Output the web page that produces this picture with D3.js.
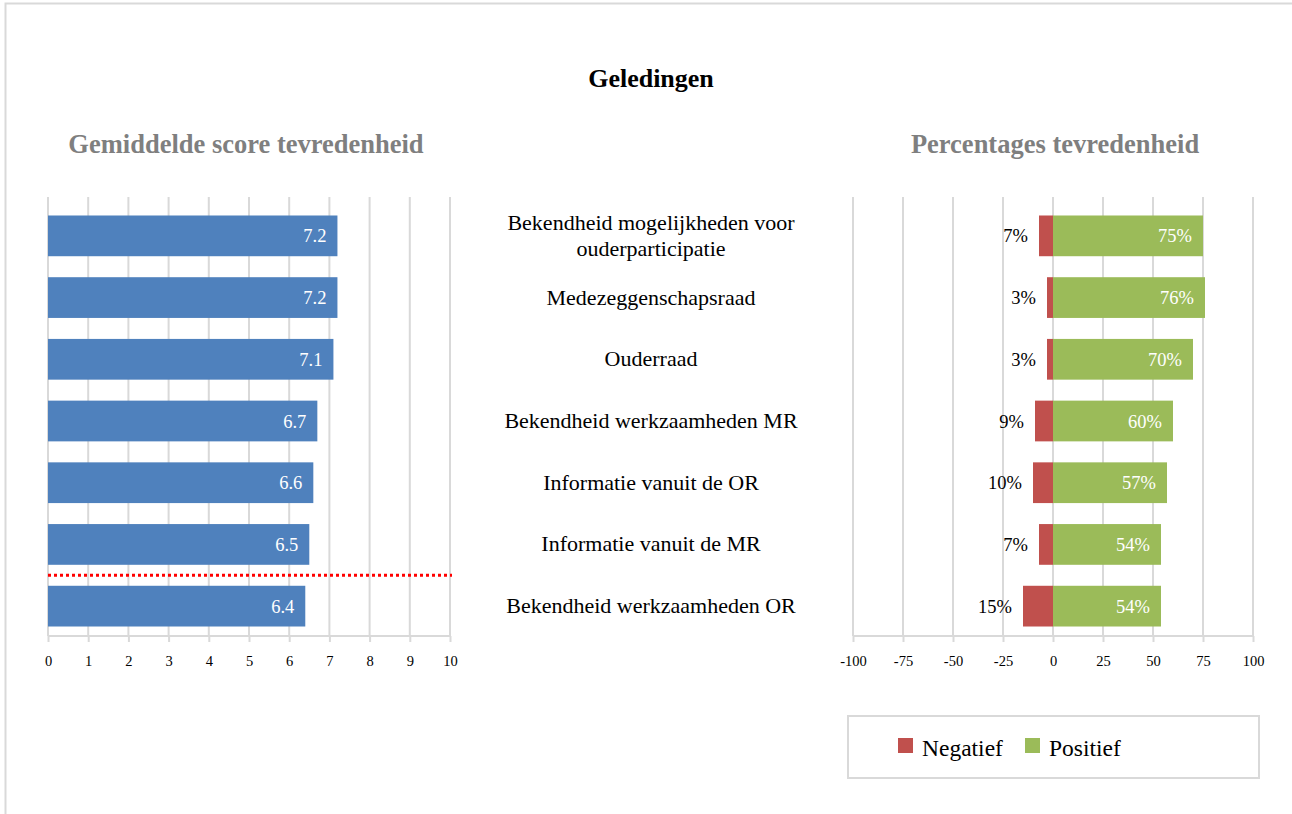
<!DOCTYPE html>
<html>
<head>
<meta charset="utf-8">
<style>
  body { margin: 0; background: #fff; }
  svg text { font-family: "Liberation Serif", "Times New Roman", serif; }
  .grid line { stroke: #d9d9d9; stroke-width: 2; }
  .axis path, .axis line { stroke: #d9d9d9; stroke-width: 2; }
  .axis text { font-size: 14.5px; fill: #000; font-family: "Liberation Serif", serif; }
</style>
</head>
<body>
<svg width="1292" height="814"></svg>
<script src="https://cdnjs.cloudflare.com/ajax/libs/d3/7.8.5/d3.min.js"></script>
<script>
// data
const categories = [
  "Bekendheid mogelijkheden voor|ouderparticipatie",
  "Medezeggenschapsraad",
  "Ouderraad",
  "Bekendheid werkzaamheden MR",
  "Informatie vanuit de OR",
  "Informatie vanuit de MR",
  "Bekendheid werkzaamheden OR"
];
const scores = [7.2, 7.2, 7.1, 6.7, 6.6, 6.5, 6.4];
const negatief = [7, 3, 3, 9, 10, 7, 15];
const positief = [75, 76, 70, 60, 57, 54, 54];
const scoreTicks = [0, 1, 2, 3, 4, 5, 6, 7, 8, 9, 10];
const pctTicks = [-100, -75, -50, -25, 0, 25, 50, 75, 100];
const thresholdAfter = 5; // dotted line below this row index

const svg = d3.select("svg");
const blue = "#4f81bd", red = "#c0504d", green = "#9bbb59";

// outer frame
svg.append("rect")
  .attr("x", 5.5).attr("y", 3.5)
  .attr("width", 1300).attr("height", 830)
  .attr("fill", "none").attr("stroke", "#d9d9d9").attr("stroke-width", 2);

svg.append("text")
  .attr("x", 651).attr("y", 87)
  .attr("text-anchor", "middle")
  .style("font-size", "26px").style("font-weight", "bold")
  .text("Geledingen");

const plotTop = 197, plotBottom = 636;

const y = d3.scaleBand()
  .domain(d3.range(categories.length))
  .range([205, 637])
  .paddingInner(0.34)
  .paddingOuter(0.17);

// ---------- left chart ----------
const x1 = d3.scaleLinear().domain([0, 10]).range([48, 450]);

svg.append("text")
  .attr("x", 246).attr("y", 153)
  .attr("text-anchor", "middle")
  .style("font-size", "26.5px").style("font-weight", "bold").style("fill", "#7f7f7f")
  .text("Gemiddelde score tevredenheid");

svg.append("g").attr("class", "grid")
  .selectAll("line").data(scoreTicks).join("line")
  .attr("x1", d => x1(d)).attr("x2", d => x1(d))
  .attr("y1", plotTop).attr("y2", plotBottom);

svg.append("g").attr("class", "axis")
  .attr("transform", "translate(0," + plotBottom + ")")
  .call(d3.axisBottom(x1).tickValues(scoreTicks).tickFormat(d => String(d))
    .tickSize(6).tickPadding(14).tickSizeOuter(0))
  .call(g => g.select(".domain").attr("d", "M" + x1(0) + ",0H" + x1(10)));

svg.append("g").selectAll("rect").data(scores).join("rect")
  .attr("x", x1(0))
  .attr("y", (d, i) => y(i))
  .attr("width", d => x1(d) - x1(0))
  .attr("height", y.bandwidth())
  .attr("fill", blue);

svg.append("g").selectAll("text").data(scores).join("text")
  .attr("x", d => x1(d) - 11)
  .attr("y", (d, i) => y(i) + y.bandwidth() / 2 + 6.5)
  .attr("text-anchor", "end")
  .style("font-size", "18.5px").style("fill", "#fff")
  .text(d => d.toFixed(1));

const thrY = (y(thresholdAfter) + y.bandwidth() + y(thresholdAfter + 1)) / 2;
svg.append("line")
  .attr("x1", x1(0)).attr("x2", x1(10) + 2)
  .attr("y1", thrY).attr("y2", thrY)
  .attr("stroke", "#ff0000").attr("stroke-width", 3)
  .attr("stroke-dasharray", "3,3");

// ---------- category labels ----------
const labels = svg.append("g").selectAll("text").data(categories).join("text")
  .attr("text-anchor", "middle")
  .style("font-size", "22px");
labels.each(function(d, i) {
  const parts = d.split("|");
  const cy = y(i) + y.bandwidth() / 2;
  const t = d3.select(this);
  parts.forEach((p, k) => {
    t.append("tspan")
      .attr("x", 651)
      .attr("y", cy + 7 + (k - (parts.length - 1) / 2) * 26)
      .text(p);
  });
});

// ---------- right chart ----------
const x2 = d3.scaleLinear().domain([-100, 100]).range([853, 1253]);

svg.append("text")
  .attr("x", 1055).attr("y", 153)
  .attr("text-anchor", "middle")
  .style("font-size", "26.5px").style("font-weight", "bold").style("fill", "#7f7f7f")
  .text("Percentages tevredenheid");

svg.append("g").attr("class", "grid")
  .selectAll("line").data(pctTicks).join("line")
  .attr("x1", d => x2(d)).attr("x2", d => x2(d))
  .attr("y1", plotTop).attr("y2", plotBottom);

svg.append("g").attr("class", "axis")
  .attr("transform", "translate(0," + plotBottom + ")")
  .call(d3.axisBottom(x2).tickValues(pctTicks).tickFormat(d => String(d))
    .tickSize(6).tickPadding(14).tickSizeOuter(0))
  .call(g => g.select(".domain").attr("d", "M" + x2(-100) + ",0H" + x2(100)));

svg.append("g").selectAll("rect").data(negatief).join("rect")
  .attr("x", d => x2(-d))
  .attr("y", (d, i) => y(i))
  .attr("width", d => x2(0) - x2(-d))
  .attr("height", y.bandwidth())
  .attr("fill", red);

svg.append("g").selectAll("rect").data(positief).join("rect")
  .attr("x", x2(0))
  .attr("y", (d, i) => y(i))
  .attr("width", d => x2(d) - x2(0))
  .attr("height", y.bandwidth())
  .attr("fill", green);

svg.append("g").selectAll("text").data(negatief).join("text")
  .attr("x", d => x2(-d) - 11)
  .attr("y", (d, i) => y(i) + y.bandwidth() / 2 + 6.5)
  .attr("text-anchor", "end")
  .style("font-size", "18.5px").style("fill", "#000")
  .text(d => d + "%");

svg.append("g").selectAll("text").data(positief).join("text")
  .attr("x", d => x2(d) - 11)
  .attr("y", (d, i) => y(i) + y.bandwidth() / 2 + 6.5)
  .attr("text-anchor", "end")
  .style("font-size", "18.5px").style("fill", "#fff")
  .text(d => d + "%");

// legend
const legend = svg.append("g");
legend.append("rect")
  .attr("x", 848).attr("y", 716).attr("width", 411).attr("height", 62)
  .attr("fill", "none").attr("stroke", "#d9d9d9").attr("stroke-width", 2);
const legendItems = [
  { name: "Negatief", color: red, x: 898 },
  { name: "Positief", color: green, x: 1025 }
];
legendItems.forEach(it => {
  legend.append("rect").attr("x", it.x).attr("y", 738).attr("width", 15).attr("height", 15).attr("fill", it.color);
  legend.append("text").attr("x", it.x + 24).attr("y", 756)
    .style("font-size", "23.5px").text(it.name);
});
</script>
</body>
</html>
